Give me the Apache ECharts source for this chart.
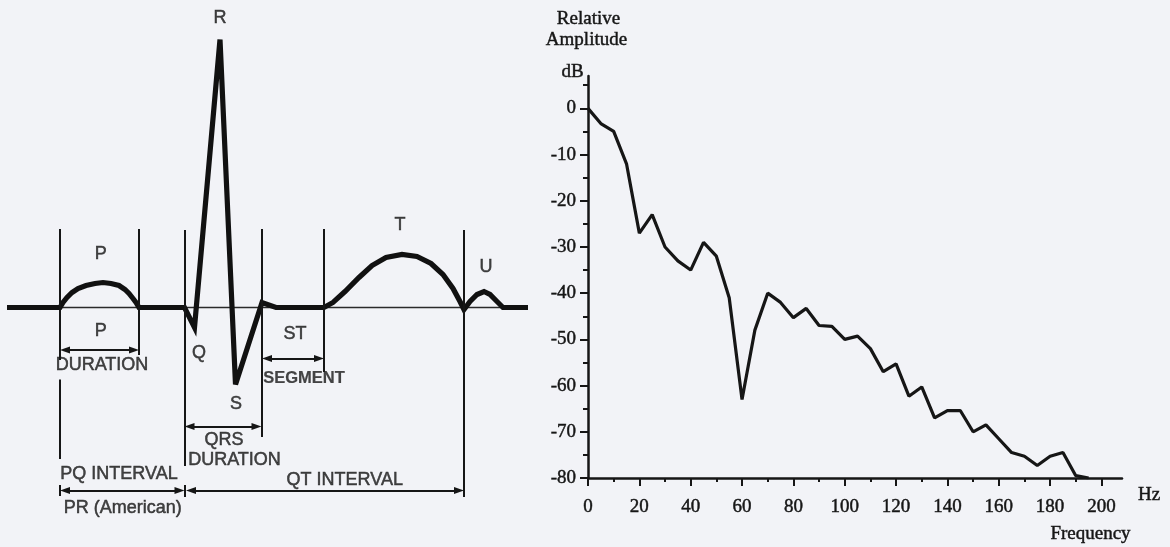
<!DOCTYPE html>
<html>
<head>
<meta charset="utf-8">
<script src="https://cdn.jsdelivr.net/npm/echarts@6/dist/echarts.min.js"></script>
<style>
html,body{margin:0;padding:0;background:#f2f3f7;}
#chart{width:1170px;height:547px;}
</style>
</head>
<body>
<div id="chart"></div>
<script>
// ---------- Spectrum data (right panel) ----------
const freqHz = [0,5,10,15,20,25,30,35,40,45,50,55,60,65,70,75,80,85,90,95,100,105,110,115,120,125,130,135,140,145,150,155,160,165,170,175,180,185,190,195];
const relAmpDb = [0,-3.3,-5,-12,-27,-23,-30,-33,-35,-29,-32,-41,-63,-48,-40,-42,-45.3,-43.3,-47,-47.2,-50,-49.3,-52,-57,-55.3,-62.3,-60.3,-67,-65.4,-65.4,-70,-68.5,-71.5,-74.5,-75.3,-77.3,-75.3,-74.5,-79.5,-80];
const yMajorTicks = [-80,-70,-60,-50,-40,-30,-20,-10,0];
const yMinorTicks = [-75,-65,-55,-45,-35,-25,-15,-5,5];
const xMajorTicks = [0,20,40,60,80,100,120,140,160,180,200];
const xMinorTicks = [10,30,50,70,90,110,130,150,170,190];

// ---------- ECG schematic data (left panel) ----------
const ecgTime = [7,60,63,67,72,78,86,95,103,111,119,125,129,133,136,139,184.5,194.5,220,235.5,262,276,324,333,345,359,372,386,402,417,431,443,453,460,464,470,477,484,490,497,503,528];
const ecgAmp  = [0,0,5,10,15,19,22,24,25,24,22,18,14,9,5,0,0,-20,268,-77,5,0,0,5,16,30,42,50,53,51,44,33,19,6,-2,6,13,16,13,6,0,0];
const ecgBaseline = [[7,0],[528,0]];
const guideX      = [60, 60, 60, 139, 184.5, 184.5, 261.5, 324, 464];
const guideTop    = [78.5, -72, -177.5, 78.5, 77.5, -177.5, 78.5, 78.5, 77.5];
const guideBottom = [-52.5, -151.5, -188.5, -47.5, -158.5, -189.5, -129.5, -64.5, -189.5];
const arrowFrom = [60, 184.5, 262, 60, 186];
const arrowTo   = [139, 261.5, 324, 184.5, 464];
const arrowAt   = [-42.5, -119, -51, -183, -183];
const ecgLabelText = ['R','P','P','DURATION','Q','S','ST','SEGMENT','T','U','QRS','DURATION','PQ INTERVAL','QT INTERVAL','PR (American)'];
const ecgLabelX = [220, 100.7, 100.7, 102, 199, 236, 295, 304, 400, 486, 224, 234.5, 119, 344.8, 122.8];
const ecgLabelY = [289, 53.7, -24, -57.5, -46, -97, -27, -71.3, 82.5, 40, -132.5, -152.5, -166.5, -172.5, -200.5];

const INK = '#161616';
const SERIF = '"Liberation Serif", "Times New Roman", serif';
const SANS = '"Liberation Sans", Arial, sans-serif';
const HEAD = 10; // arrow head length

const chart = echarts.init(document.getElementById('chart'), null, {renderer: 'canvas'});

const guideLines = guideX.map((x, i) => [{coord: [x, guideTop[i]]}, {coord: [x, guideBottom[i]]}]);
const arrowLines = arrowFrom.map((x, i) => [{coord: [x + HEAD / 2, arrowAt[i]]}, {coord: [arrowTo[i] - HEAD / 2, arrowAt[i]]}]);
const labelItems = ecgLabelText.map((t, i) => {
  const item = {name: t, value: [ecgLabelX[i], ecgLabelY[i]]};
  if (t === 'SEGMENT') item.label = {fontWeight: 'bold', fontSize: 16.5, textBorderWidth: 0.2};
  return item;
});
const serifText = (text, x, y) => ({type: 'text', silent: true,
  style: {text: text, x: x, y: y, align: 'center', verticalAlign: 'middle', font: '19px ' + SERIF,
          fill: INK, stroke: INK, lineWidth: 0.45}});

const option = {
  backgroundColor: '#f2f3f7',
  animation: false,
  grid: [
    {left: 588, top: 76, width: 534, height: 402, containLabel: false},
    {left: 0, top: 0, width: 540, height: 547, containLabel: false}
  ],
  xAxis: [
    {type: 'value', gridIndex: 0, min: 0, max: 208, position: 'bottom',
     axisLine: {onZero: false, lineStyle: {color: INK, width: 2.5}},
     axisTick: {customValues: xMajorTicks, length: 8, lineStyle: {color: INK, width: 2}},
     axisLabel: {customValues: xMajorTicks, margin: 20, fontFamily: SERIF, fontSize: 19, color: INK,
                 textBorderColor: INK, textBorderWidth: 0.45},
     splitLine: {show: false}},
    {type: 'value', gridIndex: 0, min: 0, max: 208, position: 'bottom',
     axisLine: {show: false, onZero: false},
     axisTick: {customValues: xMinorTicks, length: 4, lineStyle: {color: INK, width: 2}},
     axisLabel: {show: false}, splitLine: {show: false}},
    {type: 'value', gridIndex: 1, min: 0, max: 540, show: false}
  ],
  yAxis: [
    {type: 'value', gridIndex: 0, min: -80, max: 7, position: 'left',
     axisLine: {show: true, onZero: false, lineStyle: {color: INK, width: 2.5}},
     axisTick: {show: true, customValues: yMajorTicks, length: 8, lineStyle: {color: INK, width: 2}},
     axisLabel: {customValues: yMajorTicks, margin: 12, fontFamily: SERIF, fontSize: 19, color: INK,
                 textBorderColor: INK, textBorderWidth: 0.45},
     splitLine: {show: false}},
    {type: 'value', gridIndex: 0, min: -80, max: 7, position: 'left',
     axisLine: {show: false, onZero: false},
     axisTick: {show: true, customValues: yMinorTicks, length: 5, lineStyle: {color: INK, width: 2}},
     axisLabel: {show: false}, splitLine: {show: false}},
    {type: 'value', gridIndex: 1, min: -239.5, max: 307.5, show: false}
  ],
  series: [
    {type: 'line', xAxisIndex: 0, yAxisIndex: 0, symbol: 'none', silent: true,
     data: freqHz.map((f, i) => [f, relAmpDb[i]]),
     lineStyle: {color: INK, width: 3.2}},
    {type: 'line', xAxisIndex: 2, yAxisIndex: 2, symbol: 'none', silent: true,
     data: ecgBaseline, lineStyle: {color: '#2a2a2a', width: 1.3},
     markLine: {silent: true, symbol: ['none', 'none'], label: {show: false},
       lineStyle: {color: INK, width: 2, type: 'solid'}, data: guideLines}},
    {type: 'line', xAxisIndex: 2, yAxisIndex: 2, symbol: 'none', silent: true,
     data: ecgTime.map((t, i) => [t, ecgAmp[i]]),
     lineStyle: {color: '#111', width: 5.2, join: 'miter', miterLimit: 4}},
    {type: 'line', xAxisIndex: 2, yAxisIndex: 2, symbol: 'none', silent: true,
     data: [[7, 0]], lineStyle: {width: 0},
     markLine: {silent: true, symbol: ['triangle', 'triangle'], symbolSize: [7, HEAD], label: {show: false},
       lineStyle: {color: INK, width: 1.8, type: 'solid'}, itemStyle: {color: INK}, data: arrowLines}},
    {type: 'scatter', xAxisIndex: 2, yAxisIndex: 2, symbolSize: 1, silent: true,
     itemStyle: {color: 'rgba(0,0,0,0)'},
     label: {show: true, position: 'inside', formatter: '{b}', fontFamily: SANS, fontSize: 18, color: INK,
             textBorderColor: INK, textBorderWidth: 0.5},
     data: labelItems}
  ],
  graphic: [
    serifText('Relative', 588.5, 18.6),
    serifText('Amplitude', 586.5, 40.3),
    serifText('dB', 572.5, 72),
    serifText('Hz', 1149, 495.3),
    serifText('Frequency', 1090.5, 534.3)
  ]
};
chart.setOption(option);
</script>
</body>
</html>
